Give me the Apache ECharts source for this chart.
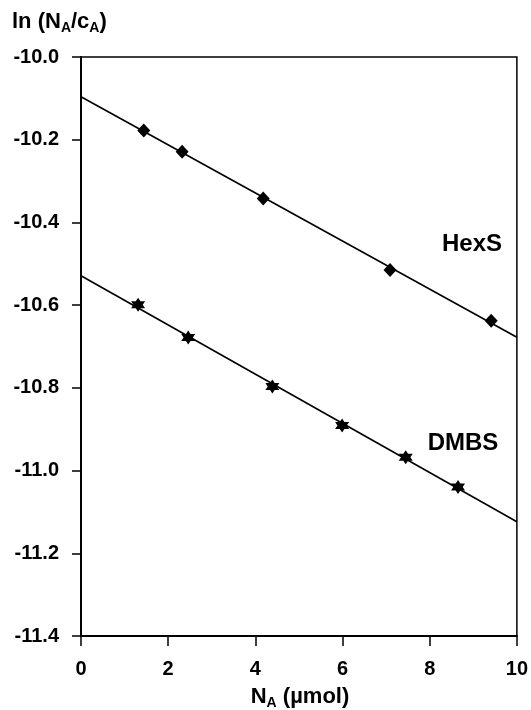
<!DOCTYPE html>
<html>
<head>
<meta charset="utf-8">
<script src="https://cdn.jsdelivr.net/npm/echarts@6/dist/echarts.min.js"></script>
<style>
  html, body { margin: 0; padding: 0; background: #fff; }
  #chart { width: 531px; height: 710px; }
</style>
</head>
<body>
<div id="chart"></div>
<script>
// 数据：N_A (µmol) 与 ln(N_A/c_A)
const hexsX = [1.44, 2.32, 4.18, 7.09, 9.41]
const hexsY = [-10.178, -10.229, -10.342, -10.515, -10.638]
const dmbsX = [1.31, 2.46, 4.39, 5.99, 7.45, 8.65]
const dmbsY = [-10.599, -10.678, -10.797, -10.891, -10.968, -11.040]
const xTicks = [0, 2, 4, 6, 8, 10]
const yTicks = [-10.0, -10.2, -10.4, -10.6, -10.8, -11.0, -11.2, -11.4]

const FONT = 'Liberation Sans'

// 最小二乘拟合直线，画到坐标轴两端
const fitLine = (xs, ys) => {
  const n = xs.length
  const mx = xs.reduce((a, b) => a + b, 0) / n
  const my = ys.reduce((a, b) => a + b, 0) / n
  let sxy = 0
  let sxx = 0
  xs.forEach((x, i) => {
    sxy += (x - mx) * (ys[i] - my)
    sxx += (x - mx) * (x - mx)
  })
  const k = sxy / sxx
  const b = my - k * mx
  const x0 = xTicks[0]
  const x1 = xTicks[xTicks.length - 1]
  return [[x0, b + k * x0], [x1, b + k * x1]]
}

const pairs = (xs, ys) => xs.map((x, i) => [x, ys[i]])

// 六角星标记
const hexStar = 'path://M10 0 L12.89 5 L18.66 5 L15.77 10 L18.66 15 L12.89 15 L10 20 L7.11 15 L1.34 15 L4.23 10 L1.34 5 L7.11 5 Z'

// 标题富文本样式（带下标）
const titleRich = {
  n: { fontFamily: FONT, fontWeight: 'bold', fontSize: 22, lineHeight: 26, fill: '#000' },
  s: { fontFamily: FONT, fontWeight: 'bold', fontSize: 14, lineHeight: 16, verticalAlign: 'bottom', fill: '#000' }
}

const chart = echarts.init(document.getElementById('chart'))

chart.setOption({
  animation: false,
  backgroundColor: '#fff',
  grid: {
    left: 81,
    right: 14,
    top: 57,
    bottom: 74,
    show: true,
    borderColor: '#000',
    borderWidth: 1.5,
    backgroundColor: 'transparent'
  },
  xAxis: {
    type: 'value',
    min: xTicks[0],
    max: xTicks[xTicks.length - 1],
    interval: 2,
    splitLine: { show: false },
    axisLine: { show: true, lineStyle: { color: '#000', width: 2 } },
    axisTick: { show: true, inside: false, length: 10, lineStyle: { color: '#000', width: 1.5 } },
    axisLabel: {
      margin: 23,
      color: '#000',
      fontFamily: FONT,
      fontWeight: 'bold',
      fontSize: 20
    }
  },
  yAxis: {
    type: 'value',
    min: yTicks[yTicks.length - 1],
    max: yTicks[0],
    interval: 0.2,
    splitLine: { show: false },
    axisLine: { show: true, onZero: false, lineStyle: { color: '#000', width: 2 } },
    axisTick: { show: true, inside: false, length: 9, lineStyle: { color: '#000', width: 1.5 } },
    axisLabel: {
      margin: 22,
      color: '#000',
      fontFamily: FONT,
      fontWeight: 'bold',
      fontSize: 20,
      formatter: (v) => v.toFixed(1)
    }
  },
  graphic: [
    {
      type: 'text',
      left: 12,
      top: 11,
      style: {
        text: '{n|ln (N}{s|A}{n|/c}{s|A}{n|)}',
        rich: titleRich
      }
    },
    {
      type: 'text',
      x: 300,
      y: 697,
      style: {
        text: '{n|N}{s|A}{n| (µmol)}',
        align: 'center',
        verticalAlign: 'middle',
        rich: titleRich
      }
    },
    {
      type: 'text',
      x: 472,
      y: 244,
      style: {
        text: 'HexS',
        align: 'center',
        verticalAlign: 'middle',
        font: 'bold 24px "Liberation Sans"',
        fill: '#000'
      }
    },
    {
      type: 'text',
      x: 463,
      y: 443,
      style: {
        text: 'DMBS',
        align: 'center',
        verticalAlign: 'middle',
        font: 'bold 24px "Liberation Sans"',
        fill: '#000'
      }
    }
  ],
  series: [
    {
      name: 'HexS fit',
      type: 'line',
      data: fitLine(hexsX, hexsY),
      symbol: 'none',
      lineStyle: { color: '#000', width: 1.6 },
      z: 2
    },
    {
      name: 'DMBS fit',
      type: 'line',
      data: fitLine(dmbsX, dmbsY),
      symbol: 'none',
      lineStyle: { color: '#000', width: 1.6 },
      z: 2
    },
    {
      name: 'HexS',
      type: 'scatter',
      data: pairs(hexsX, hexsY),
      symbol: 'diamond',
      symbolSize: [13, 14],
      itemStyle: { color: '#000', opacity: 1 },
      z: 3
    },
    {
      name: 'DMBS',
      type: 'scatter',
      data: pairs(dmbsX, dmbsY),
      symbol: hexStar,
      symbolSize: 14,
      itemStyle: { color: '#000', opacity: 1 },
      z: 3
    }
  ]
})
</script>
</body>
</html>
